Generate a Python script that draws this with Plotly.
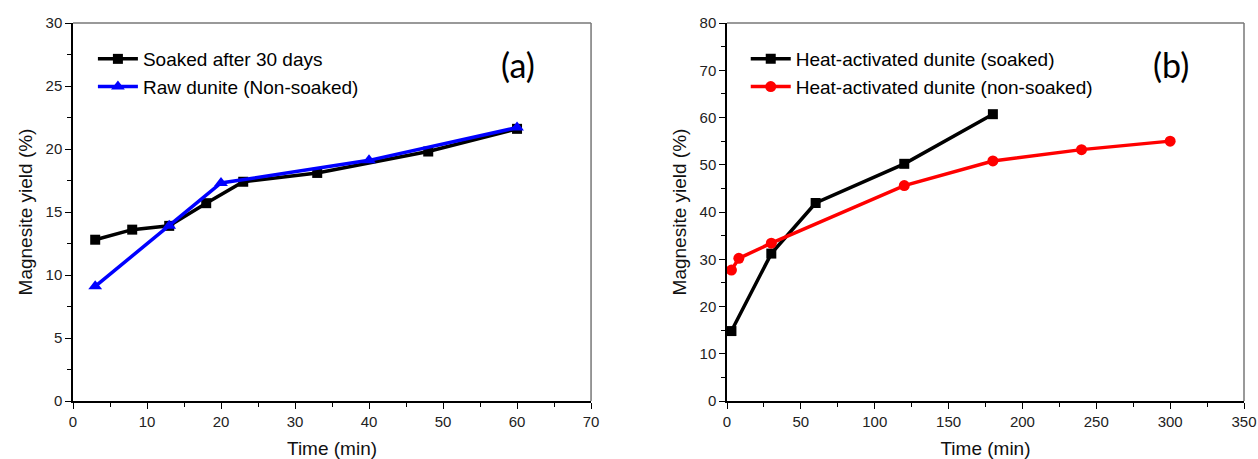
import plotly.graph_objects as go

# panel (a)
soaked_t = [3, 8, 13, 18, 23, 33, 48, 60]
soaked_y = [12.8, 13.6, 13.9, 15.7, 17.4, 18.1, 19.8, 21.6]
raw_t = [3, 13, 20, 40, 60]
raw_y = [9.1, 13.9, 17.3, 19.1, 21.7]

# panel (b)
heat_soaked_t = [3, 30, 60, 120, 180]
heat_soaked_y = [14.8, 31.2, 41.9, 50.2, 60.7]
heat_raw_t = [3, 8, 30, 120, 180, 240, 300]
heat_raw_y = [27.7, 30.2, 33.4, 45.6, 50.8, 53.2, 55.0]

FONT = "Liberation Sans, Arial, sans-serif"

fig = go.Figure()

fig.add_trace(go.Scatter(x=soaked_t, y=soaked_y, mode="lines+markers", name="Soaked after 30 days",
                         line=dict(color="black", width=3.5),
                         marker=dict(symbol="square", size=10, color="black"),
                         xaxis="x", yaxis="y", legend="legend"))
fig.add_trace(go.Scatter(x=raw_t, y=raw_y, mode="lines+markers", name="Raw dunite (Non-soaked)",
                         line=dict(color="#0000ff", width=3.5),
                         marker=dict(symbol="triangle-up", size=12, color="#0000ff"),
                         xaxis="x", yaxis="y", legend="legend"))
fig.add_trace(go.Scatter(x=heat_soaked_t, y=heat_soaked_y, mode="lines+markers",
                         name="Heat-activated dunite (soaked)",
                         line=dict(color="black", width=3.5),
                         marker=dict(symbol="square", size=10, color="black"),
                         xaxis="x2", yaxis="y2", legend="legend2"))
fig.add_trace(go.Scatter(x=heat_raw_t, y=heat_raw_y, mode="lines+markers",
                         name="Heat-activated dunite (non-soaked)",
                         line=dict(color="#ff0000", width=3.5),
                         marker=dict(symbol="circle", size=11, color="#ff0000"),
                         xaxis="x2", yaxis="y2", legend="legend2"))

axis_common = dict(showline=True, linecolor="black", linewidth=1.5, ticks="outside", ticklen=6,
                   tickwidth=1.2, tickcolor="black", showgrid=False, zeroline=False,
                   automargin=False,
                   tickfont=dict(family=FONT, size=15, color="#222"),
                   title_font=dict(family=FONT, size=19, color="#111"))

fig.update_layout(
    width=1258, height=459,
    margin=dict(l=73, r=14, t=23, b=58),
    plot_bgcolor="white", paper_bgcolor="white",
    font=dict(family=FONT),
    xaxis=dict(domain=[0, 0.4424], range=[0, 70], dtick=10, anchor="y",
               minor=dict(ticks="outside", ticklen=4, dtick=5, tickcolor="black"),
               title=dict(text="Time (min)", standoff=14), **axis_common),
    yaxis=dict(domain=[0, 1], range=[0, 30], dtick=5, anchor="x",
               minor=dict(ticks="outside", ticklen=4, dtick=2.5, tickcolor="black"),
               title=dict(text="Magnesite yield (%)", standoff=8), **axis_common),
    xaxis2=dict(domain=[0.5585, 1.0], range=[0, 350], dtick=50, anchor="y2",
                minor=dict(ticks="outside", ticklen=4, dtick=25, tickcolor="black"),
                title=dict(text="Time (min)", standoff=14), **axis_common),
    yaxis2=dict(domain=[0, 1], range=[0, 80], dtick=10, anchor="x2",
                minor=dict(ticks="outside", ticklen=4, dtick=5, tickcolor="black"),
                title=dict(text="Magnesite yield (%)", standoff=8), **axis_common),
    legend=dict(x=0.017, y=0.955, xanchor="left", yanchor="top", bgcolor="rgba(0,0,0,0)",
                font=dict(family=FONT, size=19, color="black"), tracegroupgap=0, itemwidth=40),
    legend2=dict(x=0.5745, y=0.955, xanchor="left", yanchor="top", bgcolor="rgba(0,0,0,0)",
                 font=dict(family=FONT, size=19, color="black"), tracegroupgap=0, itemwidth=40),
)

# gray top/right frame lines
for xr, yr in [("x domain", "y domain"), ("x2 domain", "y2 domain")]:
    fig.add_shape(type="line", xref=xr, yref=yr, x0=0, x1=1, y0=1, y1=1,
                  line=dict(color="#777", width=1.5))
    fig.add_shape(type="line", xref=xr, yref=yr, x0=1, x1=1, y0=0, y1=1,
                  line=dict(color="#777", width=1.5))

fig.add_annotation(text="(a)", xref="x domain", yref="y domain", x=0.859, y=0.889,
                   xanchor="center", yanchor="middle", showarrow=False,
                   font=dict(family="Lato, Carlito, sans-serif", size=34, color="black"))
fig.add_annotation(text="(b)", xref="x2 domain", yref="y2 domain", x=0.859, y=0.889,
                   xanchor="center", yanchor="middle", showarrow=False,
                   font=dict(family="Lato, Carlito, sans-serif", size=34, color="black"))

# drop the default body margin so the figure fills the window exactly
fig.write_html("out.html", config={"displayModeBar": False},
               post_script="document.body.style.margin='0';")
